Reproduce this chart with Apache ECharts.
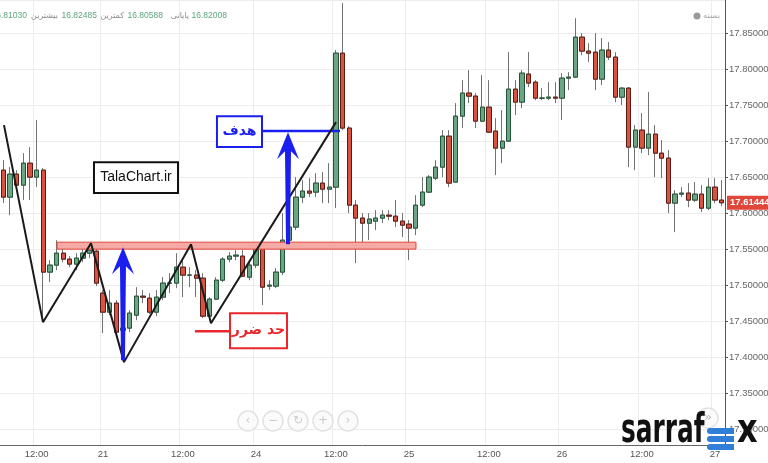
<!DOCTYPE html>
<html>
<head>
<meta charset="utf-8">
<script src="https://cdn.jsdelivr.net/npm/echarts@6/dist/echarts.min.js"></script>
<style>
  html, body, #main { width: 100%; height: 100%; margin: 0; background: #fff; }
</style>
</head>
<body>
<div id="main"></div>
<script>
// hourly candles
var opens = [
  17.6597,17.6222,17.6542,17.6389,17.6694,17.6500,17.6597,17.5181,17.5278,17.5444,
  17.5361,17.5292,17.5375,17.5444,17.5472,17.4889,17.4625,17.4750,17.4375,17.4403,
  17.4583,17.4847,17.4819,17.4625,17.4833,17.5028,17.5028,17.5250,17.5139,17.5139,
  17.5097,17.4569,17.4806,17.5069,17.5361,17.5403,17.5403,17.5111,17.5278,17.5500,
  17.4986,17.4986,17.5181,17.5625,17.5806,17.6222,17.6306,17.6292,17.6417,17.6333,
  17.6361,17.8222,17.7181,17.6111,17.5931,17.5861,17.5889,17.5931,17.5972,17.5958,
  17.5889,17.5847,17.5792,17.6111,17.6292,17.6486,17.6639,17.7069,17.6431,17.7347,
  17.7667,17.7625,17.7278,17.7472,17.7139,17.6903,17.7000,17.7722,17.7542,17.7931,
  17.7819,17.7597,17.7597,17.7611,17.7597,17.7875,17.7889,17.8444,17.8250,17.8236,
  17.7861,17.8264,17.8167,17.7611,17.7736,17.6917,17.7153,17.6903,17.7097,17.6833,
  17.6764,17.6139,17.6264,17.6278,17.6181,17.6264,17.6069,17.6361,17.6181
];
var closes = [
  17.6222,17.6542,17.6389,17.6694,17.6500,17.6597,17.5181,17.5278,17.5444,17.5361,
  17.5292,17.5375,17.5444,17.5486,17.5028,17.4625,17.4750,17.4347,17.4403,17.4611,
  17.4847,17.4833,17.4625,17.4833,17.5028,17.5028,17.5250,17.5139,17.5139,17.5097,
  17.4569,17.4806,17.5069,17.5361,17.5403,17.5417,17.5125,17.5278,17.5500,17.4972,
  17.5000,17.5181,17.5625,17.5806,17.6222,17.6306,17.6278,17.6417,17.6333,17.6361,
  17.8222,17.7181,17.6111,17.5931,17.5861,17.5917,17.5931,17.5972,17.5958,17.5889,
  17.5833,17.5792,17.6111,17.6292,17.6500,17.6639,17.7069,17.6417,17.7347,17.7667,
  17.7625,17.7278,17.7472,17.7125,17.6903,17.7000,17.7722,17.7542,17.7944,17.7806,
  17.7597,17.7597,17.7611,17.7597,17.7875,17.7889,17.8444,17.8250,17.8222,17.7861,
  17.8264,17.8167,17.7611,17.7736,17.6917,17.7153,17.6903,17.7097,17.6833,17.6764,
  17.6139,17.6264,17.6278,17.6181,17.6264,17.6069,17.6361,17.6181,17.61444
];
var lows = [
  17.6139,17.5972,17.6347,17.6181,17.6181,17.6361,17.4514,17.5042,17.5208,17.5319,
  17.5250,17.5208,17.5319,17.5375,17.4986,17.4333,17.4583,17.4292,17.4306,17.4347,
  17.4514,17.4750,17.4597,17.4569,17.4792,17.4889,17.4958,17.4833,17.4972,17.4833,
  17.4542,17.4514,17.4792,17.5042,17.5319,17.5347,17.5111,17.5069,17.5236,17.4722,
  17.4931,17.4958,17.5139,17.5583,17.5764,17.6139,17.6222,17.6222,17.6139,17.6139,
  17.6069,17.7153,17.6000,17.5306,17.5528,17.5625,17.5764,17.5861,17.5903,17.5806,
  17.5667,17.5347,17.5694,17.6083,17.6278,17.6458,17.6500,17.6361,17.6431,17.7181,
  17.7528,17.7181,17.7264,17.7111,17.6528,17.6694,17.6986,17.7361,17.7458,17.7750,
  17.7569,17.7569,17.7569,17.7528,17.7292,17.7708,17.7875,17.8194,17.8097,17.7708,
  17.7778,17.8125,17.7542,17.7500,17.6639,17.6597,17.6833,17.6806,17.6500,17.6486,
  17.6000,17.5736,17.6222,17.6083,17.6153,17.6014,17.6042,17.6139,17.6097
];
var highs = [
  17.6736,17.6639,17.6597,17.6833,17.6917,17.7292,17.6625,17.5347,17.5625,17.5514,
  17.5403,17.5444,17.5514,17.5569,17.5500,17.4931,17.4931,17.4792,17.4514,17.4653,
  17.4972,17.4931,17.4889,17.4931,17.5111,17.5167,17.5444,17.5347,17.5250,17.5208,
  17.5167,17.4833,17.5111,17.5389,17.5458,17.5486,17.5486,17.5319,17.5556,17.5514,
  17.5069,17.5236,17.6000,17.5875,17.6500,17.6458,17.6486,17.6556,17.6569,17.6694,
  17.8264,17.8917,17.7208,17.6181,17.6000,17.6000,17.6042,17.6042,17.6042,17.6181,
  17.6000,17.5903,17.6250,17.6500,17.6528,17.6736,17.7153,17.7153,17.7528,17.7847,
  17.7986,17.7667,17.7917,17.7847,17.7319,17.7431,17.8236,17.7847,17.7986,17.8236,
  17.7847,17.7736,17.7819,17.7819,17.7944,17.7958,17.8708,17.8500,17.8361,17.8500,
  17.8431,17.8375,17.8236,17.7750,17.7750,17.7222,17.7389,17.7681,17.7222,17.7014,
  17.6875,17.6319,17.6361,17.6417,17.6431,17.6389,17.6486,17.6486,17.6458
];

// x axis labels (candle index where each label sits)
var tickIndex = [5, 15, 27, 38, 50, 61, 73, 84, 96, 107];
var tickText = ['12:00', '21', '12:00', '24', '12:00', '25', '12:00', '26', '12:00', '27'];

// drawn analysis, in candle index / price units
var zigzagX = [0.10, 5.96, 13.18, 18.14, 28.22, 31.22, 50.02];
var zigzagY = [17.7222, 17.4486, 17.5583, 17.3931, 17.5569, 17.4472, 17.7264];
var necklineX = [8.07, 62.04];
var necklineY = [17.5500, 17.5597];
var arrowX = [17.99, 42.80];
var arrowTip = [17.5528, 17.7125];
var arrowBase = [17.3958, 17.5569];
var levelX0 = [38.89, 28.82];
var levelX1 = [50.62, 34.08];
var levelY = [17.7139, 17.4361];
var levelColor = ['#1a1ff0', '#e8262b'];
var boxText = ['TalaChart.ir', 'هدف', 'حد ضرر'];
var boxX0 = [13.63, 32.12, 34.08];
var boxX1 = [26.26, 38.89, 42.65];
var boxTop = [17.6708, 17.7347, 17.4611];
var boxBottom = [17.6278, 17.6917, 17.4125];
var boxColor = ['#111111', '#1a1ff0', '#e8262b'];

// legend line at the top
var headerText = ['16.81030', 'بیشترین', '16.82485', 'کمترین', '16.80588', 'پایانی', '16.82008'];
var headerRight = [27, 58, 97, 124, 163, 189, 227];

var chart = echarts.init(document.getElementById('main'));

var N = opens.length;
var categories = [];
var wickData = [];
var bodyData = [];
for (var i = 0; i < N; i++) {
    categories.push(String(i));
    wickData.push([opens[i], closes[i], lows[i], highs[i]]);
    bodyData.push([opens[i], closes[i], Math.min(opens[i], closes[i]), Math.max(opens[i], closes[i])]);
}
var lastClose = closes[N - 1];

function isTick(idx) {
    return tickIndex.indexOf(idx) >= 0;
}

var zigzag = zigzagX.map(function (x, k) { return [x, zigzagY[k]]; });
var levels = levelX0.map(function (x, k) { return [x, levelY[k], levelX1[k]]; });
var arrows = arrowX.map(function (x, k) { return [x, arrowTip[k], arrowBase[k]]; });
var boxes = boxX0.map(function (x, k) { return [x, boxTop[k], boxX1[k], boxBottom[k]]; });

var graphics = [];
headerText.forEach(function (t, k) {
    var isNum = k % 2 === 0;
    graphics.push({
        type: 'text', x: headerRight[k], y: 16, z: 50,
        style: {
            text: t, align: 'right', verticalAlign: 'middle',
            fill: isNum ? '#5da57d' : '#8c8c8c',
            font: isNum ? '8.5px "Liberation Sans"' : '8px "DejaVu Sans"'
        }
    });
});
graphics.push({ type: 'circle', shape: { cx: 697, cy: 16, r: 3.5 }, style: { fill: '#9a9a9a' }, z: 50 });
graphics.push({
    type: 'text', x: 703, y: 16, z: 50,
    style: { text: 'بسته', align: 'left', verticalAlign: 'middle', fill: '#a8a8a8', font: '8.5px "DejaVu Sans"' }
});
// navigation buttons
['‹', '−', '↻', '+', '›'].forEach(function (g, k) {
    var cx = 248 + k * 25;
    graphics.push({ type: 'circle', shape: { cx: cx, cy: 421, r: 10 }, style: { fill: 'rgba(250,250,250,0.8)', stroke: '#e2e2e2', lineWidth: 1.5 }, z: 50 });
    graphics.push({ type: 'text', x: cx, y: 421, z: 51, style: { text: g, align: 'center', verticalAlign: 'middle', fill: '#cccccc', font: '12px "DejaVu Sans"' } });
});
graphics.push({ type: 'circle', shape: { cx: 708, cy: 418, r: 10 }, style: { fill: 'rgba(250,250,250,0.8)', stroke: '#e2e2e2', lineWidth: 1.5 }, z: 50 });
graphics.push({ type: 'text', x: 708, y: 418, z: 51, style: { text: '»', align: 'center', verticalAlign: 'middle', fill: '#bbbbbb', font: '13px "DejaVu Sans"' } });
// watermark logo
graphics.push({
    type: 'text', x: 621, y: 452, scaleX: 0.62, z: 60,
    style: { text: 'sarraf', align: 'left', verticalAlign: 'bottom', fill: '#111', font: 'bold 40px "DejaVu Sans"' }
});
[0, 1, 2].forEach(function (k) {
    graphics.push({
        type: 'rect', z: 60,
        shape: { x: 707, y: 428 + k * 8, width: 27, height: 6, r: [3, 0, 0, 3] },
        style: { fill: '#2f7fd8' }
    });
});
graphics.push({
    type: 'text', x: 737, y: 452, scaleX: 0.8, z: 60,
    style: { text: 'x', align: 'left', verticalAlign: 'bottom', fill: '#111', font: 'bold 40px "DejaVu Sans"' }
});

var option = {
    animation: false,
    backgroundColor: '#fff',
    grid: { left: 0, right: 43, top: 0, bottom: 18, outerBoundsMode: 'none' },
    xAxis: [{
        type: 'category',
        data: categories,
        boundaryGap: true,
        axisLine: { lineStyle: { color: '#666' } },
        axisTick: { alignWithLabel: true, length: 4, interval: function (idx) { return isTick(idx); }, lineStyle: { color: '#999' } },
        axisLabel: {
            color: '#555', fontSize: 9.5, margin: 4, fontFamily: 'Liberation Sans',
            interval: function (idx) { return isTick(idx); },
            formatter: function (v, idx) { return tickText[tickIndex.indexOf(idx)]; }
        },
        splitLine: { show: true, interval: function (idx) { return isTick(idx); }, lineStyle: { color: '#ececec' } }
    }, {
        type: 'value', min: -0.5, max: N - 0.5, show: false
    }],
    yAxis: {
        type: 'value',
        position: 'right',
        min: 17.278,
        max: 17.896,
        splitNumber: 12,
        axisLine: { show: true, onZero: false, lineStyle: { color: '#555' } },
        axisTick: { show: true, length: 3, lineStyle: { color: '#555' } },
        axisLabel: {
            color: '#666', fontSize: 9.5, margin: 4, fontFamily: 'Liberation Sans',
            showMinLabel: false, showMaxLabel: false,
            formatter: function (v) { return v.toFixed(5); }
        },
        splitLine: { lineStyle: { color: '#ececec' } }
    },
    graphic: graphics,
    series: [{
        name: 'wicks',
        type: 'candlestick',
        data: wickData,
        barWidth: '72%',
        silent: true,
        itemStyle: {
            color: 'rgba(0,0,0,0)', color0: 'rgba(0,0,0,0)',
            borderColor: '#737373', borderColor0: '#737373', borderWidth: 1
        }
    }, {
        name: 'bodies',
        type: 'candlestick',
        data: bodyData,
        barWidth: '72%',
        silent: true,
        itemStyle: {
            color: '#6ba583', color0: '#d75442',
            borderColor: '#225437', borderColor0: '#5b1a13', borderWidth: 1
        },
        markLine: {
            symbol: 'none', silent: true,
            precision: 5,
            lineStyle: { color: 'rgba(0,0,0,0)', width: 1 },
            label: {
                show: true,
                position: 'end', distance: 2,
                formatter: function (p) { return Number(p.value).toFixed(5); },
                color: '#fff', backgroundColor: '#e0463a', padding: [2, 3, 2, 3],
                fontSize: 9.5, fontWeight: 'bold', fontFamily: 'Liberation Sans'
            },
            data: [{ yAxis: lastClose }]
        }
    }, {
        name: 'neckline',
        type: 'custom',
        xAxisIndex: 1,
        z: 3,
        silent: true,
        data: [[necklineX[0], necklineY[1], necklineX[1], necklineY[0]]],
        renderItem: function (params, api) {
            var p0 = api.coord([api.value(0), api.value(1)]);
            var p1 = api.coord([api.value(2), api.value(3)]);
            return {
                type: 'rect',
                shape: { x: p0[0], y: p0[1], width: p1[0] - p0[0], height: p1[1] - p0[1] },
                style: { fill: '#f6aaa5', stroke: '#e0453c', lineWidth: 1 }
            };
        }
    }, {
        name: 'zigzag',
        type: 'line',
        xAxisIndex: 1,
        z: 4,
        silent: true,
        symbol: 'none',
        data: zigzag,
        lineStyle: { color: '#1a1a1a', width: 2 }
    }, {
        name: 'levels',
        type: 'custom',
        xAxisIndex: 1,
        z: 4,
        silent: true,
        data: levels,
        renderItem: function (params, api) {
            var p0 = api.coord([api.value(0), api.value(1)]);
            var p1 = api.coord([api.value(2), api.value(1)]);
            return {
                type: 'line',
                shape: { x1: p0[0], y1: p0[1], x2: p1[0], y2: p1[1] },
                style: { stroke: levelColor[params.dataIndex], lineWidth: 2.5 }
            };
        }
    }, {
        name: 'arrows',
        type: 'custom',
        xAxisIndex: 1,
        z: 5,
        silent: true,
        data: arrows,
        renderItem: function (params, api) {
            var tip = api.coord([api.value(0), api.value(1)]);
            var base = api.coord([api.value(0), api.value(2)]);
            var x = tip[0], t = tip[1], b = base[1];
            return {
                type: 'polygon',
                shape: {
                    points: [[x, t], [x + 11, t + 27], [x + 3, t + 19], [x + 2, b], [x - 2, b], [x - 3, t + 19], [x - 11, t + 27]]
                },
                style: { fill: '#1a1ff0' }
            };
        }
    }, {
        name: 'boxes',
        type: 'custom',
        xAxisIndex: 1,
        z: 6,
        silent: true,
        data: boxes,
        renderItem: function (params, api) {
            var k = params.dataIndex;
            var p0 = api.coord([api.value(0), api.value(1)]);
            var p1 = api.coord([api.value(2), api.value(3)]);
            var font = k === 0 ? '14px "Liberation Sans"' : 'bold 14px "DejaVu Sans"';
            return {
                type: 'group',
                children: [{
                    type: 'rect',
                    shape: { x: p0[0], y: p0[1], width: p1[0] - p0[0], height: p1[1] - p0[1] },
                    style: { fill: '#fff', stroke: boxColor[k], lineWidth: 2 }
                }, {
                    type: 'text',
                    x: (p0[0] + p1[0]) / 2,
                    y: (p0[1] + p1[1]) / 2,
                    style: { text: boxText[k], fill: boxColor[k], font: font, align: 'center', verticalAlign: 'middle' }
                }]
            };
        }
    }]
};

chart.setOption(option);

window.onresize = function () {
    chart.resize();
};
</script>
</body>
</html>
